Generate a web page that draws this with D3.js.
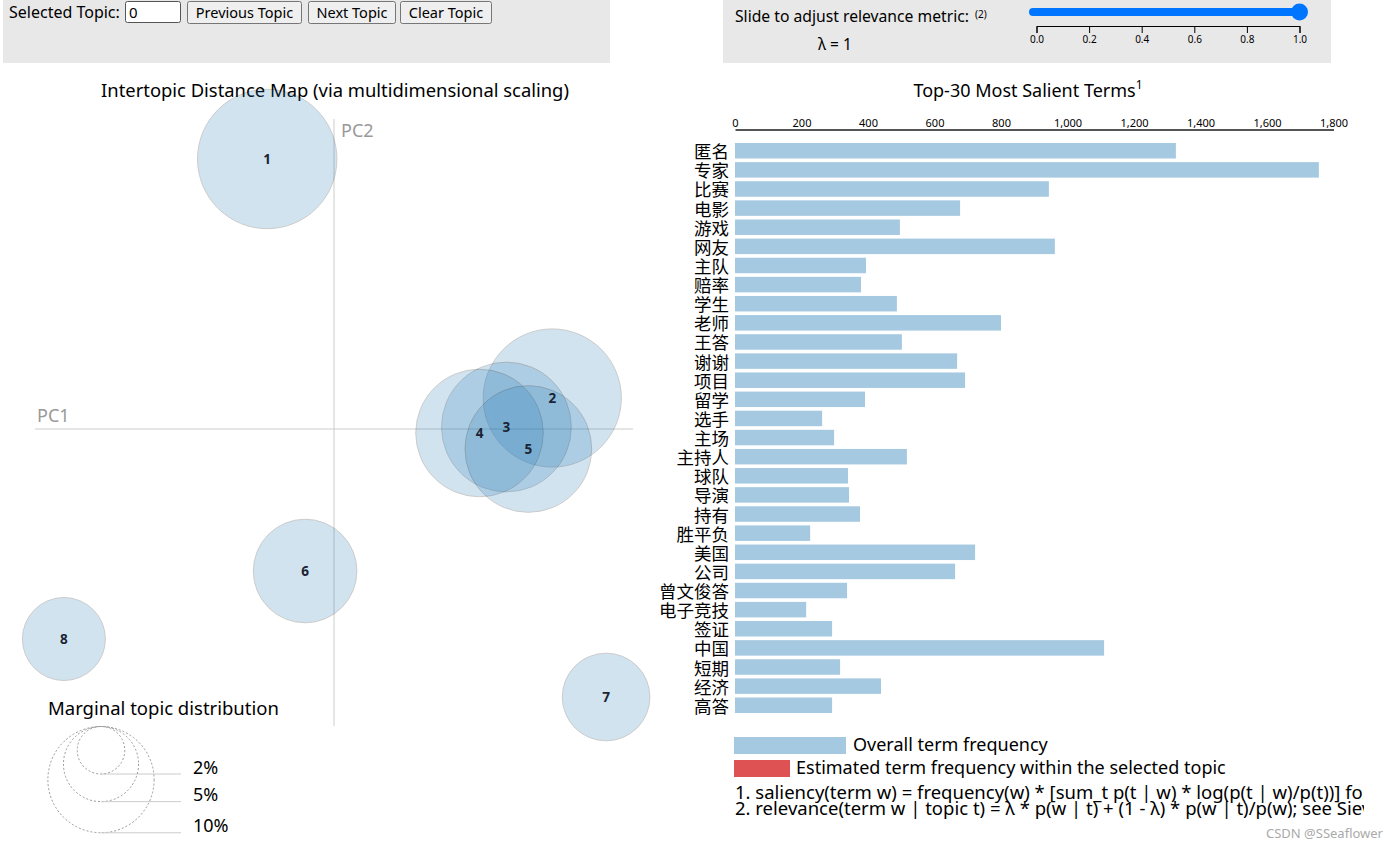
<!DOCTYPE html>
<html><head><meta charset="utf-8">
<script src="https://cdn.jsdelivr.net/npm/d3@7"></script>
<style>
body{margin:0;background:#fff;}
svg text{font-family:"Noto Sans","Noto Sans CJK SC",sans-serif;}
.cjk{font-family:"Noto Sans CJK SC",sans-serif !important;}
</style></head><body><svg id="c" width="1400" height="850"></svg>
<script>
// ---- data ----
const terms = ["匿名","专家","比赛","电影","游戏","网友","主队","赔率","学生","老师","王答","谢谢","项目","留学","选手","主场","主持人","球队","导演","持有","胜平负","美国","公司","曾文俊答","电子竞技","签证","中国","短期","经济","高答"];
const termFreq = [1326,1756,944,677,496,962,394,379,487,800,502,668,692,391,262,298,517,340,343,376,226,722,662,337,214,292,1110,316,439,292];
const freqTicks = [0,200,400,600,800,1000,1200,1400,1600,1800];
const topicIds = [1,2,3,4,5,6,7,8];
const topicPC1 = [-0.067,0.219,0.173,0.146,0.195,-0.029,0.273,-0.271];
const topicPC2 = [0.270,0.031,0.002,-0.004,-0.020,-0.142,-0.268,-0.210];
const topicShare = [17.2,16.9,14.9,14.4,14.2,9.5,6.8,6.1];
const legendShares = [2,5,10];
const sliderTicks = [0,0.2,0.4,0.6,0.8,1.0];
const lambdaValue = 1;

const svg = d3.select("#c");
const blue = "#1f77b4", red = "#d62728";

// ---- top control panels ----
svg.append("rect").attr("x",3).attr("y",0).attr("width",607).attr("height",63).attr("fill","#e8e8e8");
svg.append("rect").attr("x",723).attr("y",0).attr("width",608).attr("height",63).attr("fill","#e8e8e8");
svg.append("text").attr("x",9).attr("y",18).attr("font-size",16).text("Selected Topic:");
svg.append("rect").attr("x",125.5).attr("y",1.5).attr("width",55).attr("height",21).attr("fill","#fff").attr("stroke","#555").attr("rx",2);
svg.append("text").attr("x",129).attr("y",18).attr("font-size",15).text("0");
const buttons = [["Previous Topic",187,114],["Next Topic",308,87],["Clear Topic",400,91]];
buttons.forEach(([t,x,w])=>{
  svg.append("rect").attr("x",x+0.5).attr("y",1.5).attr("width",w).attr("height",22).attr("rx",2)
    .attr("fill","#efefef").attr("stroke","#767676");
  svg.append("text").attr("x",x+w/2+0.5).attr("y",18).attr("text-anchor","middle").attr("font-size",14.5).text(t);
});
svg.append("text").attr("x",735).attr("y",22).attr("font-size",15.7).text("Slide to adjust relevance metric:");
svg.append("text").attr("x",975).attr("y",18).attr("font-size",10).text("(2)");
svg.append("text").attr("x",818).attr("y",50).attr("font-size",15.5).text("λ = " + lambdaValue);
const sx = d3.scaleLinear().domain([0,1]).range([1036.5,1299.5]);
svg.append("rect").attr("x",1029).attr("y",8).attr("width",sx(lambdaValue)-1029).attr("height",8).attr("rx",4).attr("fill","#0075ff");
svg.append("circle").attr("cx",sx(lambdaValue)).attr("cy",12).attr("r",8.5).attr("fill","#0075ff");
const sax = svg.append("g").attr("transform","translate(0,26)")
  .call(d3.axisBottom(sx).tickValues(sliderTicks).tickSize(7).tickPadding(3).tickFormat(d3.format(".1f")));
sax.selectAll("text").attr("font-size",10).attr("font-family","Lato,sans-serif").attr("fill","#000");
sax.selectAll("line,path").attr("stroke","#000");

// ---- MDS map ----
svg.append("text").attr("x",335).attr("y",97).attr("text-anchor","middle").attr("font-size",18.4).text("Intertopic Distance Map (via multidimensional scaling)");
const xPC = d3.scaleLinear().domain([-0.3,0.3]).range([35,633]);
const yPC = d3.scaleLinear().domain([-0.3,0.3]).range([729,129]);
const rS = d3.scaleSqrt().domain([0,1]).range([0,168]);
svg.append("line").attr("x1",xPC(-0.3)).attr("x2",xPC(0.3)).attr("y1",yPC(0)).attr("y2",yPC(0)).attr("stroke","#ccc");
svg.append("line").attr("x1",xPC(0)).attr("x2",xPC(0)).attr("y1",yPC(0.31)).attr("y2",yPC(-0.297)).attr("stroke","#ccc");
svg.append("text").attr("x",37).attr("y",422).attr("font-size",18).attr("fill","#999").text("PC1");
svg.append("text").attr("x",341).attr("y",137).attr("font-size",18).attr("fill","#999").text("PC2");
const topics = topicIds.map((id,i)=>({id,x:topicPC1[i],y:topicPC2[i],s:topicShare[i]}));
svg.append("g").selectAll("circle").data(topics).join("circle")
  .attr("cx",d=>xPC(d.x)).attr("cy",d=>yPC(d.y)).attr("r",d=>rS(d.s/100))
  .attr("fill",blue).attr("stroke","#000").attr("opacity",0.2);
svg.append("g").selectAll("text").data(topics).join("text")
  .attr("x",d=>xPC(d.x)).attr("y",d=>yPC(d.y)).attr("text-anchor","middle").attr("dominant-baseline","central")
  .attr("font-size",13.5).attr("font-weight","bold").attr("fill","#1b2433").text(d=>d.id);

// marginal legend
svg.append("text").attr("x",48).attr("y",715).attr("font-size",18.5).text("Marginal topic distribution");
const lg = svg.append("g");
legendShares.forEach(p=>{
  const r = rS(p/100), cy = 726.5 + r, cx = 101;
  lg.append("circle").attr("cx",cx).attr("cy",cy).attr("r",r).attr("fill","none").attr("stroke","#999").attr("stroke-dasharray","2 2");
  lg.append("line").attr("x1",cx).attr("x2",181).attr("y1",cy+r).attr("y2",cy+r).attr("stroke","#ccc");
  lg.append("text").attr("x",193).attr("y",cy+r-0.5).attr("font-size",18).text(p+"%");
});

// ---- bar chart ----
const t = svg.append("text").attr("x",1028).attr("y",97).attr("text-anchor","middle").attr("font-size",18).text("Top-30 Most Salient Terms");
t.append("tspan").attr("font-size",12).attr("dy",-8).text("1");
const xB = d3.scaleLinear().domain([0,1800]).range([735,1333.5]);
const yB = d3.scaleBand().domain(terms).range([143,713]).paddingInner(0.19).paddingOuter(0);
const ax = svg.append("g").attr("transform","translate(0,129.5)")
  .call(d3.axisTop(xB).tickValues(freqTicks).tickSize(0).tickPadding(3).tickFormat(d3.format(",")));
ax.selectAll("text").attr("font-size",11).attr("font-family","Lato,sans-serif").attr("fill","#000");
ax.select(".domain").attr("stroke","#555").attr("stroke-width",2);
const rows = terms.map((term,i)=>({term,f:termFreq[i]}));
svg.append("g").selectAll("rect").data(rows).join("rect")
  .attr("x",xB(0)).attr("y",d=>yB(d.term)).attr("width",d=>xB(d.f)-xB(0)).attr("height",yB.bandwidth())
  .attr("fill",blue).attr("opacity",0.4);
svg.append("g").selectAll("text").data(rows).join("text").attr("class","cjk")
  .attr("x",729).attr("y",d=>yB(d.term)+yB.bandwidth()/2).attr("text-anchor","end").attr("dominant-baseline","central")
  .attr("font-size",17.5).text(d=>d.term);

// legend
svg.append("rect").attr("x",734).attr("y",737).attr("width",112).attr("height",17).attr("fill",blue).attr("opacity",0.4);
svg.append("text").attr("x",853).attr("y",751).attr("font-size",18).text("Overall term frequency");
svg.append("rect").attr("x",734).attr("y",760).attr("width",56).attr("height",17).attr("fill",red).attr("opacity",0.8);
svg.append("text").attr("x",796).attr("y",774).attr("font-size",18).text("Estimated term frequency within the selected topic");
svg.append("clipPath").attr("id","clipN").append("rect").attr("x",730).attr("y",780).attr("width",634).attr("height",40);
const notes = svg.append("g").attr("clip-path","url(#clipN)");
notes.append("text").attr("x",735).attr("y",799).attr("font-size",18.5).text("1. saliency(term w) = frequency(w) * [sum_t p(t | w) * log(p(t | w)/p(t))] for topics t; see Chuang et. al (2012)");
notes.append("text").attr("x",735).attr("y",815).attr("font-size",18.5).text("2. relevance(term w | topic t) = λ * p(w | t) + (1 - λ) * p(w | t)/p(w); see Sievert & Shirley (2014)");
svg.append("text").attr("x",1383).attr("y",838).attr("text-anchor","end").attr("font-size",13).attr("fill","#aaa").text("CSDN @SSeaflower");
</script></body></html>
